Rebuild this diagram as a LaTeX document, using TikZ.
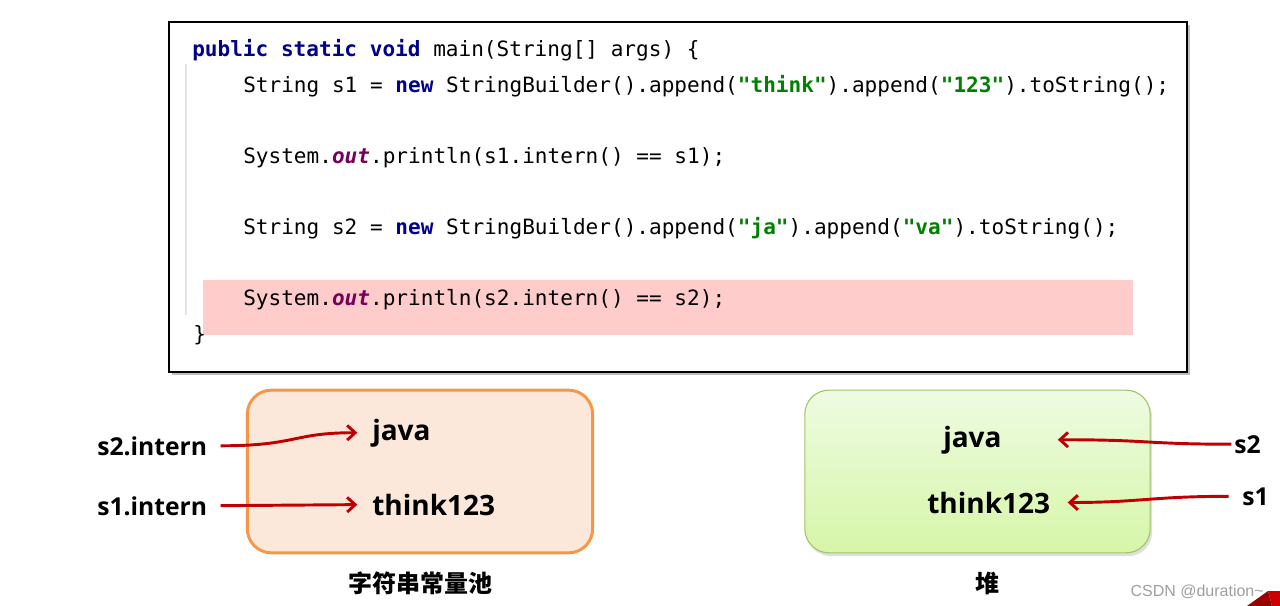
\documentclass[tikz,border=0pt]{standalone}
\usepackage{fontspec}
\usepackage{tikz}
\usetikzlibrary{arrows.meta,positioning,shadows}
\newfontfamily\codefont{DejaVu Sans Mono}[Ligatures=TeXOff]
\newfontfamily\labelfont{Open Sans}
\newfontfamily\cjkfont{Noto Sans CJK SC}
\newfontfamily\markfont{Liberation Sans}
\definecolor{kwblue}{RGB}{0,0,140}
\definecolor{strgreen}{RGB}{0,128,0}
\definecolor{fldpurple}{RGB}{120,0,90}
\definecolor{hlpink}{RGB}{255,204,204}
\definecolor{poolfill}{RGB}{252,232,218}
\definecolor{pooledge}{RGB}{247,150,70}
\definecolor{heaptop}{RGB}{238,251,226}
\definecolor{heapbot}{RGB}{214,246,168}
\definecolor{heapedge}{RGB}{160,195,100}
\definecolor{refred}{RGB}{192,0,0}
\newcommand{\kw}[1]{{\bfseries\color{kwblue}#1}}
\newcommand{\strlit}[1]{{\bfseries\color{strgreen}#1}}
\newcommand{\fld}[1]{{\bfseries\itshape\color{fldpurple}#1}}
\tikzset{
  codeln/.style={anchor=base west, inner sep=0pt, font=\codefont\fontsize{15.8}{19}\selectfont},
  boxtxt/.style={anchor=base west, inner sep=0pt, font=\labelfont\bfseries\fontsize{21}{25}\selectfont},
  reflbl/.style={anchor=base west, inner sep=0pt, font=\labelfont\bfseries\fontsize{18.5}{22}\selectfont},
  arealbl/.style={inner sep=0pt, font=\cjkfont\bfseries\fontsize{18}{22}\selectfont},
  ptr/.style={-{Straight Barb[length=6pt,width=11pt]}, refred, line width=2.2pt},
  roundbox/.style={rounded corners=18pt, minimum width=259pt, minimum height=122pt},
}

\begin{document}
\begin{tikzpicture}[x=0.75pt, y=-0.75pt]
    \useasboundingbox (0,0) rectangle (1280,606);
    % Code window
    \node[draw=black, line width=2.2pt, fill=white, minimum width=763.5pt, minimum height=262.5pt,
      drop shadow={shadow xshift=2pt, shadow yshift=-2.5pt, opacity=.5}] (codebox) at (678,197) {};
    \fill[hlpink] (203,280) rectangle (1133,335);
    \draw[gray!22, line width=1pt] (186,64) -- (186,315);
    \node[codeln] (line1) at (192,57) {\kw{public} \kw{static} \kw{void} main(String[] args) \{};
    \node[codeln] (line2) at (243,92.5) {String s1 = \kw{new} StringBuilder().append(\strlit{"think"}).append(\strlit{"123"}).toString();};
    \node[codeln] (line3) at (243,163.5) {System.\fld{out}.println(s1.intern() == s1);};
    \node[codeln] (line4) at (243,234.5) {String s2 = \kw{new} StringBuilder().append(\strlit{"ja"}).append(\strlit{"va"}).toString();};
    \node[codeln] (line5) at (243,305.5) {System.\fld{out}.println(s2.intern() == s2);};
    \node[codeln] (line6) at (193,341) {\}};
    % String constant pool
    \node[roundbox, draw=pooledge, fill=poolfill, line width=2.2pt] (pool) at (420,471.5) {};
    \node[boxtxt] (pjava) at (372,440) {java};
    \node[boxtxt] (pthink) at (372,515) {think123};
    \node[arealbl] (poolname) at (420,583) {字符串常量池};
    % Heap
    \node[roundbox, draw=heapedge, top color=heaptop, bottom color=heapbot, line width=0.8pt,
      drop shadow={shadow xshift=1.5pt, shadow yshift=-2.5pt, opacity=.25}] (heap) at (977.5,471.5) {};
    \node[boxtxt] (hjava) at (943,447) {java};
    \node[boxtxt] (hthink) at (927,513) {think123};
    \node[arealbl] (heapname) at (987,583) {堆};
    % References
    \node[reflbl] (s2in) at (97,455) {s2.intern};
    \node[reflbl] (s1in) at (97,515) {s1.intern};
    \node[reflbl] (s2ref) at (1234,453) {s2};
    \node[reflbl] (s1ref) at (1242,505) {s1};
    \draw[ptr, shorten <=10pt, shorten >=11pt] (s2in.east) .. controls +(90,0) and +(-80,0) .. (pjava.west);
    \draw[ptr, shorten <=10pt, shorten >=11pt] (s1in.east) -- (pthink.west);
    \draw[ptr, shorten <=2pt, shorten >=42pt] (s2ref.west) .. controls +(-90,0) and +(150,0) .. (hjava.east);
    \draw[ptr, shorten <=10pt, shorten >=13pt] (s1ref.west) .. controls +(-90,0) and +(90,0) .. (hthink.east);
    % Watermark
    \node[font=\markfont\fontsize{12}{14}\selectfont, text=gray!75, anchor=base east, inner sep=0pt] (mark) at (1264,596) {CSDN @duration\textasciitilde};
    \fill[red!60!black] (1247,606) -- (1268,591) -- (1272,606) -- cycle;
    \fill[red!80!black] (1268,591) -- (1280,591) -- (1280,606) -- (1272,606) -- cycle;
\end{tikzpicture}
\end{document}
